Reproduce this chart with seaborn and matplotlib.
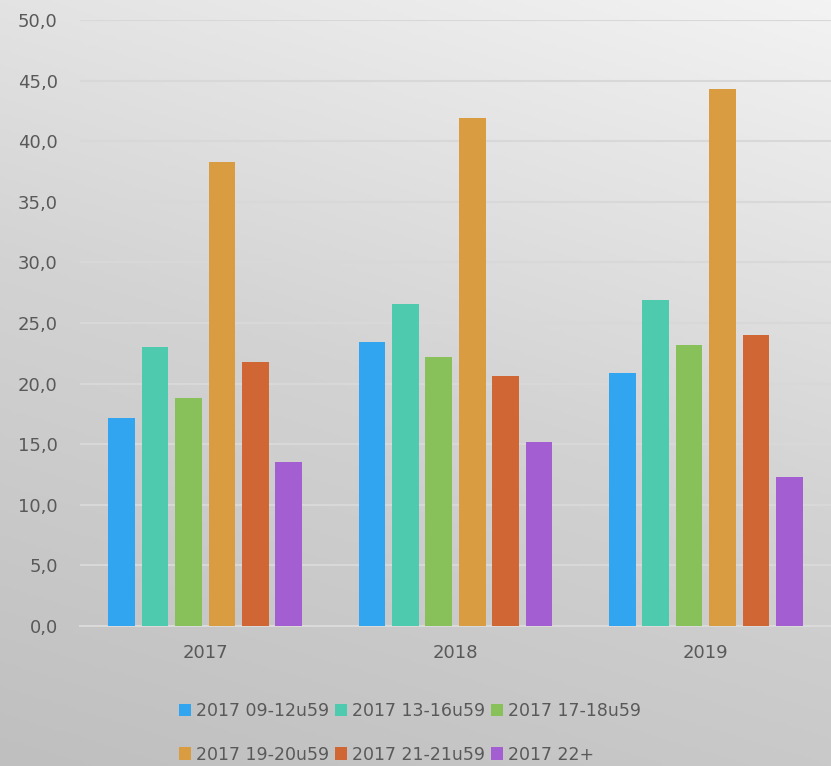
import numpy as np
import pandas as pd
import matplotlib
matplotlib.use("Agg")
import matplotlib.pyplot as plt
from matplotlib.ticker import FuncFormatter, MultipleLocator
from matplotlib.colors import LinearSegmentedColormap
import seaborn as sns

years = ["2017", "2018", "2019"]
series = ["2017 09-12u59", "2017 13-16u59", "2017 17-18u59",
          "2017 19-20u59", "2017 21-21u59", "2017 22+"]
v_09_12 = [17.2, 23.4, 20.9]
v_13_16 = [23.0, 26.6, 26.9]
v_17_18 = [18.8, 22.2, 23.2]
v_19_20 = [38.3, 41.9, 44.3]
v_21_21 = [21.8, 20.6, 24.0]
v_22 = [13.5, 15.2, 12.3]
colors = ["#31a5ef", "#4ecbaf", "#88c15a", "#d99c40", "#cf6633", "#a35fd2"]

vals = [v_09_12, v_13_16, v_17_18, v_19_20, v_21_21, v_22]
rows = []
for s, vs in zip(series, vals):
    for y, v in zip(years, vs):
        rows.append({"Year": y, "Series": s, "Value": v})
df = pd.DataFrame(rows)

sns.set_theme(style="white")
plt.rcParams["font.family"] = ["DejaVu Sans"]

W, H = 831, 766
fig = plt.figure(figsize=(W / 100, H / 100), dpi=100)

# gradient background
bg = fig.add_axes([0, 0, 1, 1], zorder=-10)
xx, yy = np.meshgrid(np.linspace(0, 1, 300), np.linspace(0, 1, 300))
t = 0.75 * yy + 0.25 * xx
cmap = LinearSegmentedColormap.from_list("bg", ["#bfbfbf", "#d3d3d3", "#f3f3f3"])
bg.imshow(t, cmap=cmap, origin="lower", extent=[0, 1, 0, 1], aspect="auto",
          vmin=0, vmax=1)
bg.axis("off")

ax = fig.add_axes([80 / W, 1 - 626 / H, 751 / W, 606 / H])
ax.set_facecolor("none")

sns.barplot(data=df, x="Year", y="Value", hue="Series", palette=colors,
            width=0.8, gap=0.2, ax=ax, errorbar=None, saturation=1,
            edgecolor="none", zorder=3)

ax.set_ylim(0, 50)
ax.yaxis.set_major_locator(MultipleLocator(5))
ax.yaxis.set_major_formatter(FuncFormatter(lambda v, p: f"{v:.1f}".replace(".", ",")))
ax.grid(axis="y", color="#d8d8d8", linewidth=1.5, zorder=0)
ax.set_axisbelow(True)
for side in ["left", "right", "top"]:
    ax.spines[side].set_visible(False)
ax.spines["bottom"].set_color("#dadada")
ax.spines["bottom"].set_linewidth(1.5)
ax.tick_params(axis="y", length=0, pad=16, labelsize=13, labelcolor="#595959")
ax.tick_params(axis="x", length=0, pad=13, labelsize=13, labelcolor="#595959")
ax.set_xlabel("")
ax.set_ylabel("")

handles, labels = ax.get_legend_handles_labels()
ax.get_legend().remove()
order = [0, 3, 1, 4, 2, 5]
fig.legend([handles[i] for i in order], [labels[i] for i in order],
           loc="center", bbox_to_anchor=(410 / W, 1 - 733 / H),
           ncol=3, frameon=False, fontsize=12.5, handlelength=0.7,
           handleheight=0.7, handletextpad=0.3, columnspacing=0.3,
           labelspacing=1.45, labelcolor="#595959")

fig.savefig("out.png", dpi=100)
